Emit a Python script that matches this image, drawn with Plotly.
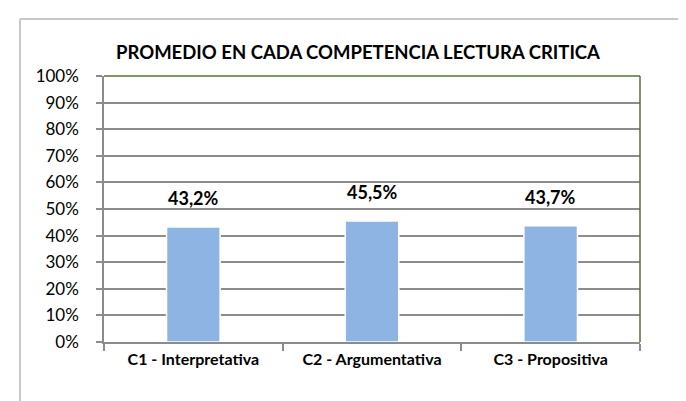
import plotly.graph_objects as go

categories = ["C1 - Interpretativa", "C2 - Argumentativa", "C3 - Propositiva"]
values = [43.2, 45.5, 43.7]
labels = ["43,2%", "45,5%", "43,7%"]
y_ticks = [0, 10, 20, 30, 40, 50, 60, 70, 80, 90, 100]
y_ticktext = [f"{v}%" for v in y_ticks]
title = "PROMEDIO EN CADA COMPETENCIA LECTURA CRITICA"

FONT = "Lato"
L, R, T, B = 96, 54, 68, 67
W, H = 686, 401
pw, ph = W - L - R, H - T - B

fig = go.Figure(go.Bar(
    x=categories, y=values, width=0.30,
    marker=dict(color="#8EB4E3", line=dict(color="#FFFFFF", width=1.5)),
))

for c, v, t in zip(categories, values, labels):
    fig.add_annotation(x=c, y=v, text=f"<b>{t}</b>", showarrow=False,
                       yanchor="bottom", yshift=16,
                       font=dict(family=FONT, size=18, color="#000000"))

def px_x(p):
    return (p - L) / pw

def px_y(p):
    return (H - B - p) / ph

shapes = [
    # outer chart border (light gray)
    dict(type="line", xref="paper", yref="paper", x0=px_x(12), x1=px_x(700), y0=px_y(11), y1=px_y(11),
         line=dict(color="#C8C8C8", width=2)),
    dict(type="line", xref="paper", yref="paper", x0=px_x(12), x1=px_x(12), y0=px_y(11), y1=px_y(420),
         line=dict(color="#C8C8C8", width=2)),
    # plot area olive border top/right
    dict(type="line", xref="paper", yref="paper", x0=0, x1=1, y0=1, y1=1,
         line=dict(color="#5A7035", width=1.5)),
    dict(type="line", xref="paper", yref="paper", x0=1, x1=1, y0=0, y1=1,
         line=dict(color="#5A7035", width=1.5)),
]

fig.update_layout(
    width=W, height=H,
    margin=dict(l=L, r=R, t=T, b=B, pad=0),
    paper_bgcolor="white", plot_bgcolor="white",
    showlegend=False,
    title=dict(text=f"<b>{title}</b>", x=px_x(350), xanchor="center", xref="paper",
               y=1 - 45 / H, yanchor="middle",
               font=dict(family=FONT, size=18.5, color="#000000")),
    shapes=shapes,
)
fig.update_yaxes(
    range=[0, 100], tickvals=y_ticks, ticktext=y_ticktext,
    showgrid=True, gridcolor="#8C8C8C", gridwidth=1.5,
    showline=True, linecolor="#8C8C8C", linewidth=1.5,
    ticks="outside", ticklen=6, tickcolor="#8C8C8C", tickwidth=1.5,
    ticklabelstandoff=14,
    tickfont=dict(family=FONT, size=17, color="#000000"),
    zeroline=False, fixedrange=True,
)
fig.update_xaxes(
    showline=True, linecolor="#8C8C8C", linewidth=1.5,
    ticks="outside", tickson="boundaries", ticklen=7, tickcolor="#8C8C8C", tickwidth=1.5,
    ticklabelstandoff=2,
    tickfont=dict(family=FONT, size=16, color="#000000"),
    tickprefix="<b>", ticksuffix="</b>",
)

fig.write_html("out.html")
